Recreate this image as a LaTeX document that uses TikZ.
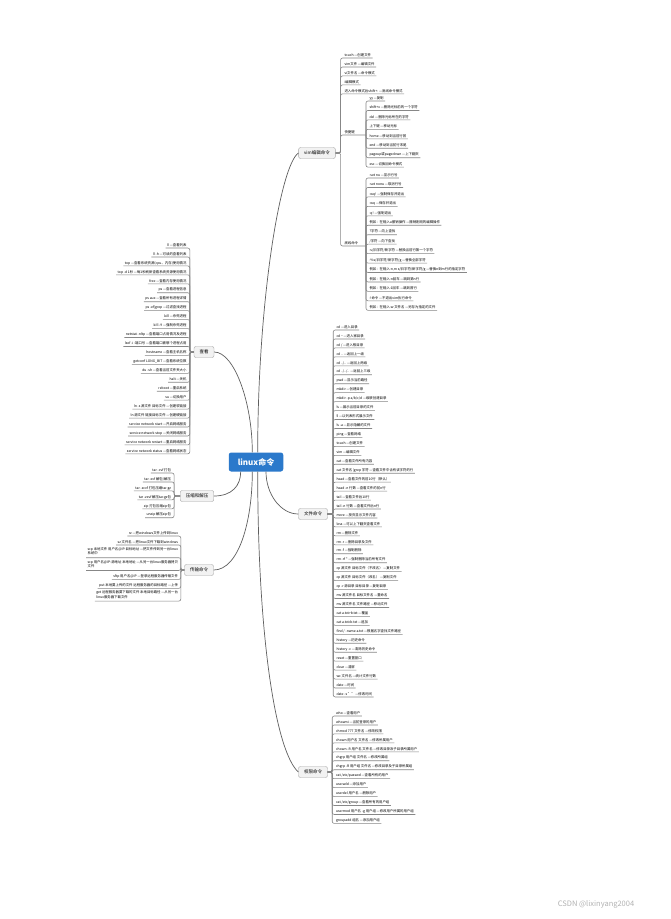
\documentclass[tikz,border=0pt]{standalone}
\usepackage{fontspec}
\setmainfont{Noto Sans CJK SC}
\usepackage{xcolor}
\usepackage{tikz}
\usetikzlibrary{positioning}
\definecolor{RootBlue}{RGB}{43,121,203}
\definecolor{TopicFill}{RGB}{242,242,242}
\definecolor{TopicLine}{RGB}{165,165,165}
\definecolor{LinkGrey}{RGB}{135,135,135}
\definecolor{BranchGrey}{RGB}{95,95,95}

\begin{document}
\begin{tikzpicture}[
  x=1pt, y=1pt,
  font=\fontsize{3.4}{4.4}\selectfont,
  rootbox/.style={rectangle, rounded corners=2.5pt, fill=RootBlue, text=white, font=\fontsize{8}{9}\selectfont\bfseries, inner xsep=9pt, minimum height=19pt},
  topic/.style={rectangle, rounded corners=2pt, draw=TopicLine, fill=TopicFill, font=\fontsize{4.5}{5}\selectfont, inner xsep=5.5pt, inner ysep=0pt, minimum height=11pt},
  leafbase/.style={inner xsep=1.5pt, outer sep=0pt},
  leaf/.style={leafbase, inner ysep=0.6pt, text height=6.55pt, text depth=1.2pt},
  leafv/.style={leaf, text height=7.05pt},
  leaftwo/.style={leafbase, inner ysep=2.6pt, align=left},
  under/.style={below=0pt of #1.south west, anchor=north west},
  underL/.style={below=0pt of #1.south east, anchor=north east},
  link/.style={draw=LinkGrey, line width=0.6pt, rounded corners=2pt},
  branch/.style={draw=BranchGrey, line width=0.7pt},
]
\fill[white] (0,0) rectangle (670,-919);
\useasboundingbox (0,0) rectangle (670,-919);

\node[rootbox] (linux) at (256,-462) {linux命令};

\node[topic] (vim) at (317,-153) {vim编辑命令};
\node[topic] (look) at (204,-352) {查看};
\node[topic] (pack) at (197,-496) {压缩和解压};
\node[topic] (trans) at (199,-570) {传输命令};
\node[topic] (files) at (313,-514) {文件命令};
\node[topic] (perm) at (313,-772) {权限命令};

\node[leaf, anchor=south west] (v1) at (343,-58) {touch —创建文件};
\node[leaf, under=v1] (v2) {vim文件 —编辑文件};
\node[leaf, under=v2] (v3) {vi文件名 —命令模式};
\node[leaf, under=v3] (v4) {i编辑模式};
\node[leaf, under=v4] (v5) {进入命令模式后shift+: —底线命令模式};
\node[leaf, text width=20pt, anchor=south west] (kj) at (343,-135) {快捷键};
\node[leaf, text width=20pt, anchor=south west] (dx) at (343,-246) {底线命令};

\node[leafv, anchor=south west] (k1) at (368,-101) {yy —复制};
\node[leafv, under=k1] (k2) {shift+x —删除光标前的一个字符};
\node[leafv, under=k2] (k3) {del —删除光标所在的字符};
\node[leafv, under=k3] (k4) {上下键 —移动光标};
\node[leafv, under=k4] (k5) {home —移动到当前行首};
\node[leafv, under=k5] (k6) {end —移动到当前行末尾};
\node[leafv, under=k6] (k7) {pageup或pagedown —上下翻页};
\node[leafv, under=k7] (k8) {esc —切换回命令模式};

\node[leafv, anchor=south west] (d1) at (368,-178) {:set nu —显示行号};
\node[leafv, under=d1] (d2) {:set nonu —取消行号};
\node[leafv, under=d2] (d3) {:wq! —强制保存并退出};
\node[leafv, under=d3] (d4) {:wq —保存并退出};
\node[leafv, under=d4] (d5) {:q! —强制退出};
\node[leafv, under=d5] (d6) {例如：在输入u撤销操作 —撤销刚刚的编辑操作};
\node[leafv, under=d6] (d7) {?字符 —向上查找};
\node[leafv, under=d7] (d8) {/字符 —向下查找};
\node[leafv, under=d8] (d9) {:s/旧字符/新字符 —替换当前行第一个字符};
\node[leafv, under=d9] (d10) {:\%s/旧字符/新字符/g —替换全部字符};
\node[leafv, under=d10] (d11) {例如：在输入:n,m s/旧字符/新字符/g —替换n到m行的指定字符};
\node[leafv, under=d11] (d12) {例如：在输入:n回车 —跳到第n行};
\node[leafv, under=d12] (d13) {例如：在输入:1回车 —跳到首行};
\node[leafv, under=d13] (d14) {:!命令 —不退出vim执行命令};
\node[leafv, under=d14] (d15) {例如：在输入:w 文件名 —另存为指定的文件};

\node[leaf, anchor=south east] (c1) at (188,-248) {ll —查看列表};
\node[leaf, underL=c1] (c2) {ll -h —可读的查看列表};
\node[leaf, underL=c2] (c3) {top —查看系统资源(cpu、内存)使用情况};
\node[leaf, underL=c3] (c4) {top -d 1秒 —每1秒刷新查看系统资源使用情况};
\node[leaf, underL=c4] (c5) {free —查看内存使用情况};
\node[leaf, underL=c5] (c6) {ps —查看进程信息};
\node[leaf, underL=c6] (c7) {ps aux —查看所有进程详情};
\node[leaf, underL=c7] (c8) {ps -ef|grep —过滤查找进程};
\node[leaf, underL=c8] (c9) {kill —杀死进程};
\node[leaf, underL=c9] (c10) {kill -9 —强制杀死进程};
\node[leaf, underL=c10] (c11) {netstat -nltp —查看端口占用情况及进程};
\node[leaf, underL=c11] (c12) {lsof -i :端口号 —查看端口被哪个进程占用};
\node[leaf, underL=c12] (c13) {hostname —查看主机名称};
\node[leaf, underL=c13] (c14) {getconf LONG\_BIT —查看系统位数};
\node[leaf, underL=c14] (c15) {du -sh —查看当前文件夹大小};
\node[leaf, underL=c15] (c16) {halt —关机};
\node[leaf, underL=c16] (c17) {reboot —重启系统};
\node[leaf, underL=c17] (c18) {su —切换用户};
\node[leaf, underL=c18] (c19) {ln -s 源文件 目标文件 —创建软链接};
\node[leaf, underL=c19] (c20) {ln 源文件 链接目标文件 —创建硬链接};
\node[leaf, underL=c20] (c21) {service network start —开启网络服务};
\node[leaf, underL=c21] (c22) {service network stop —关闭网络服务};
\node[leaf, underL=c22] (c23) {service network restart —重启网络服务};
\node[leaf, underL=c23] (c24) {service network status —查看网络状态};

\node[leaf, anchor=south east] (z1) at (172.5,-473) {tar -cvf 打包};
\node[leaf, underL=z1] (z2) {tar -xvf 解包/解压};
\node[leaf, underL=z2] (z3) {tar -zcvf 打包压缩tar.gz};
\node[leaf, underL=z3] (z4) {tar -zxvf 解压tar.gz包};
\node[leaf, underL=z4] (z5) {zip 打包压缩zip包};
\node[leaf, underL=z5] (z6) {unzip 解压zip包};

\node[leaf, anchor=south east] (t1) at (179.5,-536) {rz —把windows文件上传到linux};
\node[leaf, underL=t1] (t2) {sz 文件名 —把linux文件下载到windows};
\node[leaftwo, underL=t2] (t3) {scp 本地文件 用户名@IP:目标地址 —把文件传到另一台linux\\系统中};
\node[leaftwo, underL=t3] (t4) {scp 用户名@IP:源地址 本地地址 —从另一台linux服务器拷贝\\文件};
\node[leaf, underL=t4] (t5) {sftp 用户名@IP —登录远程服务器传输文件};
\node[leaf, underL=t5] (t6) {put 本地要上传的文件 远程服务器的目标路径 —上传};
\node[leaftwo, underL=t6] (t7) {get 远程服务器要下载的文件 本地目标路径 —从另一台\\linux服务器下载文件};

\node[leaf, anchor=south west] (f1) at (335,-330) {cd —进入目录};
\node[leaf, under=f1] (f2) {cd \textasciitilde{} —进入家目录};
\node[leaf, under=f2] (f3) {cd / —进入根目录};
\node[leaf, under=f3] (f4) {cd .. —返回上一级};
\node[leaf, under=f4] (f5) {cd ../.. —返回上两级};
\node[leaf, under=f5] (f6) {cd ../../.. —返回上三级};
\node[leaf, under=f6] (f7) {pwd —显示当前路径};
\node[leaf, under=f7] (f8) {mkdir —创建目录};
\node[leaf, under=f8] (f9) {mkdir -p a/b/c/d —级联创建目录};
\node[leaf, under=f9] (f10) {ls —展示当前目录的文件};
\node[leaf, under=f10] (f11) {ll —以列表形式展示文件};
\node[leaf, under=f11] (f12) {ls -a —显示隐藏的文件};
\node[leaf, under=f12] (f13) {ping —查看网络};
\node[leaf, under=f13] (f14) {touch —创建文件};
\node[leaf, under=f14] (f15) {vim —编辑文件};
\node[leaf, under=f15] (f16) {cat —查看文件所有内容};
\node[leaf, under=f16] (f17) {cat 文件名 |grep 字符 —查看文件中含有该字符的行};
\node[leaf, under=f17] (f18) {head —查看文件的前10行（默认）};
\node[leaf, under=f18] (f19) {head -n 行数 —查看文件的前n行};
\node[leaf, under=f19] (f20) {tail —查看文件后10行};
\node[leaf, under=f20] (f21) {tail -n 行数 —查看文件后n行};
\node[leaf, under=f21] (f22) {more —按页显示文件内容};
\node[leaf, under=f22] (f23) {less —可以上下翻页查看文件};
\node[leaf, under=f23] (f24) {rm —删除文件};
\node[leaf, under=f24] (f25) {rm -r —删除目录及文件};
\node[leaf, under=f25] (f26) {rm -f —强制删除};
\node[leaf, under=f26] (f27) {rm -rf * —强制删除当前所有文件};
\node[leaf, under=f27] (f28) {cp 源文件 目标文件（不改名） —复制文件};
\node[leaf, under=f28] (f29) {cp 源文件 目标文件（改名） —复制文件};
\node[leaf, under=f29] (f30) {cp -r 源目录 目标目录 —复制目录};
\node[leaf, under=f30] (f31) {mv 源文件名 目标文件名 —重命名};
\node[leaf, under=f31] (f32) {mv 源文件名 文件路径 —移动文件};
\node[leaf, under=f32] (f33) {cat a.txt>b.txt —覆盖};
\node[leaf, under=f33] (f34) {cat a.txt>>b.txt —追加};
\node[leaf, under=f34] (f35) {find / -name a.txt —根据名字查找文件路径};
\node[leaf, under=f35] (f36) {history —历史命令};
\node[leaf, under=f36] (f37) {history -c —清除历史命令};
\node[leaf, under=f37] (f38) {reset —重置窗口};
\node[leaf, under=f38] (f39) {clear —清屏};
\node[leaf, under=f39] (f40) {wc 文件名 —统计文件行数};
\node[leaf, under=f40] (f41) {date —时间};
\node[leaf, under=f41] (f42) {date -s "" —修改时间};

\node[leaf, anchor=south west] (p1) at (334.5,-716) {who —查看用户};
\node[leaf, under=p1] (p2) {whoami —当前登录的用户};
\node[leaf, under=p2] (p3) {chmod 777 文件名 —修改权限};
\node[leaf, under=p3] (p4) {chown 用户名 文件名 —修改所属用户};
\node[leaf, under=p4] (p5) {chown -R 用户名 文件名 —修改目录及子目录所属用户};
\node[leaf, under=p5] (p6) {chgrp 用户组 文件名 —修改所属组};
\node[leaf, under=p6] (p7) {chgrp -R 用户组 文件名 —修改目录及子目录所属组};
\node[leaf, under=p7] (p8) {cat /etc/passwd —查看所有的用户};
\node[leaf, under=p8] (p9) {useradd —添加用户};
\node[leaf, under=p9] (p10) {userdel 用户名 —删除用户};
\node[leaf, under=p10] (p11) {cat /etc/group —查看所有的用户组};
\node[leaf, under=p11] (p12) {usermod 用户名 -g 用户组 —修改用户所属的用户组};
\node[leaf, under=p12] (p13) {groupadd 组名 —添加用户组};

\node[text=gray!60, font=\fontsize{7.5}{8}\selectfont] (mark) at (596,-904) {CSDN @lixinyang2004};

\draw[branch] ([xshift=1.7pt]linux.north) .. controls +(0,152) and +(-18,-12) .. (vim.west);
\draw[branch] ([xshift=-3.7pt]linux.north) .. controls +(0,50) and +(20,0) .. (look.east);
\draw[branch] ([xshift=-15.3pt]linux.south) .. controls +(0,-14) and +(18,0) .. (pack.east);
\draw[branch] ([xshift=-3.7pt]linux.south) .. controls +(0,-50) and +(25,0) .. (trans.east);
\draw[branch] ([xshift=10pt]linux.south) .. controls +(0,-22) and +(-18,0) .. (files.west);
\draw[branch] ([xshift=1.7pt]linux.south) .. controls +(0,-170) and +(-22,20) .. (perm.west);

\foreach \n in {v1,v2,v3,v4,v5,kj,dx}
  \draw[link] (vim.east) -- ++(5,0) |- (\n.south east);
\foreach \i in {1,...,8}
  \draw[link] (kj.south east) |- (k\i.south east);
\foreach \i in {1,...,15}
  \draw[link] (dx.south east) |- (d\i.south east);
\foreach \i in {1,...,24}
  \draw[link] (look.west) -- ++(-4,0) |- (c\i.south west);
\foreach \i in {1,...,6}
  \draw[link] (pack.west) -- ++(-6,0) |- (z\i.south west);
\foreach \i in {1,...,7}
  \draw[link] (trans.west) -- ++(-3.5,0) |- (t\i.south west);
\foreach \i in {1,...,42}
  \draw[link] (files.east) -- ++(5.5,0) |- (f\i.south east);
\foreach \i in {1,...,13}
  \draw[link] (perm.east) -- ++(4.5,0) |- (p\i.south east);
\end{tikzpicture}
\end{document}
